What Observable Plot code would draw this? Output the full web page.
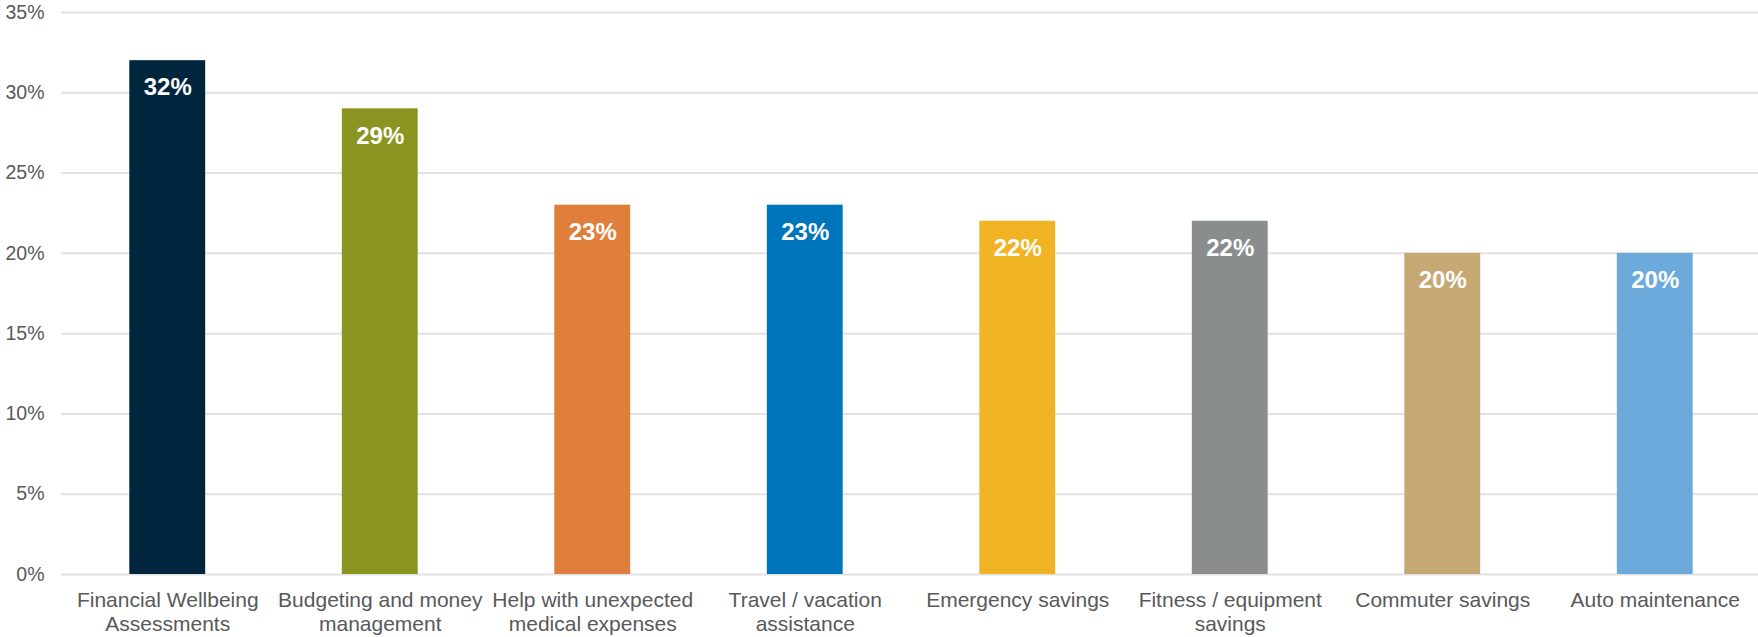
<!DOCTYPE html>
<html>
<head>
<meta charset="utf-8">
<script src="https://cdn.jsdelivr.net/npm/d3@7"></script>
<script src="https://cdn.jsdelivr.net/npm/@observablehq/plot@0.6"></script>
<style>
  html, body { margin: 0; padding: 0; background: #ffffff; }
  #chart svg { display: block; font-family: "Liberation Sans", Arial, sans-serif; }
</style>
</head>
<body>
<div id="chart"></div>
<script>
const categories = [
  "Financial Wellbeing Assessments",
  "Budgeting and money management",
  "Help with unexpected medical expenses",
  "Travel / vacation assistance",
  "Emergency savings",
  "Fitness / equipment savings",
  "Commuter savings",
  "Auto maintenance"
];
const categoryLabels = [
  "Financial Wellbeing\nAssessments",
  "Budgeting and money\nmanagement",
  "Help with unexpected\nmedical expenses",
  "Travel / vacation\nassistance",
  "Emergency savings",
  "Fitness / equipment\nsavings",
  "Commuter savings",
  "Auto maintenance"
];
const values = [32, 29, 23, 23, 22, 22, 20, 20];
const yTicks = [0, 5, 10, 15, 20, 25, 30, 35];
const barColors = ["#00263e", "#8a9420", "#e07e3c", "#0075bb", "#f0b323", "#8a8d8e", "#c5a873", "#6caadb"];

const data = categories.map((c, i) => ({category: c, value: values[i]}));
const labelOf = new Map(categories.map((c, i) => [c, categoryLabels[i]]));

const chart = Plot.plot({
  width: 1758,
  height: 637,
  marginTop: 12,
  marginBottom: 63,
  marginLeft: 61,
  marginRight: 0,
  style: {fontFamily: "'Liberation Sans', Arial, sans-serif", background: "#ffffff", overflow: "visible"},
  x: {domain: categories, range: [61, 1761], round: false, paddingInner: 0.643, paddingOuter: 0.3215, label: null},
  y: {domain: [0, 35], label: null},
  color: {domain: categories, range: barColors},
  marks: [
    Plot.gridY(yTicks, {stroke: "#e2e2e2", strokeOpacity: 1, strokeWidth: 2}),
    Plot.barY(data, {x: "category", y: "value", fill: "category"}),
    Plot.text(data, {
      x: "category", y: "value",
      text: d => d.value + "%",
      fill: "#ffffff", fontWeight: "bold", fontSize: 24,
      lineAnchor: "middle", dy: 27
    }),
    Plot.axisY({
      ticks: yTicks, tickSize: 0, tickPadding: 17,
      tickFormat: d => d + "%", fontSize: 19.5, fill: "#595959", label: null
    }),
    Plot.axisX({
      tickSize: 0, tickPadding: 16,
      tickFormat: d => labelOf.get(d), fontSize: 21, lineHeight: 1.13,
      fill: "#595959", label: null
    })
  ]
});
document.getElementById("chart").appendChild(chart);
</script>
</body>
</html>
